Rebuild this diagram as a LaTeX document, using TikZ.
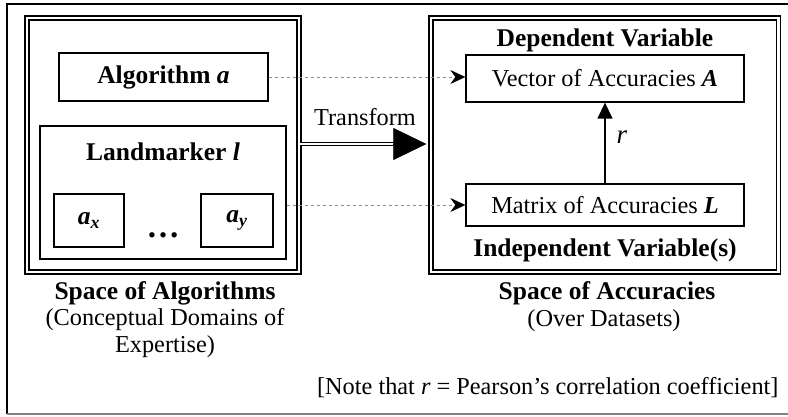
\documentclass[tikz,border=0pt]{standalone}
\usepackage{fontspec}
\setmainfont{Liberation Serif}
\usetikzlibrary{arrows.meta}
\begin{document}
\begin{tikzpicture}[x=1pt,y=-1pt,
  box/.style={draw, line width=1.3pt, inner sep=0pt},
  dbox/.style={draw, double, double distance=2.7pt, line width=1.3pt, inner sep=0pt},
  nfont/.style={font=\fontsize{24.3}{27}\selectfont},
  bfont/.style={font=\fontsize{25.5}{29}\selectfont\bfseries},
  dasharrow/.style={draw=black!45, line width=0.9pt, dash pattern=on 3.5pt off 2.5pt,
    -{Stealth[length=15pt,width=14pt,inset=5pt,color=black]}},
]
\useasboundingbox (0,0) rectangle (788,417);
\draw[line width=2pt] (788,4) -- (7,4) -- (7,414);
\draw[black!50, line width=1.5pt] (7,414) -- (788,414);

% double boxes
\node[dbox, minimum width=272pt, minimum height=254pt] (LB) at (163,145) {};
\node[dbox, minimum width=347.5pt, minimum height=254pt] (RB) at (604.75,145) {};

% left content
\node[box, minimum width=209pt, minimum height=48pt, bfont] (alg) at (163.5,77) {Algorithm \textit{a}};
\node[box, minimum width=246pt, minimum height=133pt] (lm) at (163,192.5) {};
\node[bfont] (lmt) at (163,152) {Landmarker \textit{l}};
\node[box, minimum width=70pt, minimum height=53pt, bfont] (ax) at (89,220.5) {\textit{a\textsubscript{x}}};
\node[box, minimum width=72pt, minimum height=53pt, bfont] (ay) at (237,220.5) {\textit{a\textsubscript{y}}};
\node[font=\fontsize{33}{36}\selectfont\bfseries, anchor=base] (dots) at (163,237) {…};
\node[bfont] (soa) at (165,293) {Space of Algorithms};
\node[nfont, align=center] (cd) at (165,333.5) {(Conceptual Domains of\\Expertise)};

% right content
\node[bfont] (dv) at (605,40) {Dependent Variable};
\node[box, minimum width=278pt, minimum height=47pt, nfont] (vec) at (605,78.5) {Vector of Accuracies \textbf{\textit{A}}};
\node[box, minimum width=278pt, minimum height=42pt, nfont] (mat) at (605,205) {Matrix of Accuracies \textbf{\textit{L}}};
\node[bfont] (iv) at (605,250) {Independent Variable(s)};
\node[bfont] (spa) at (607,293) {Space of Accuracies};
\node[nfont] (od) at (604,321) {(Over Datasets)};
\node[nfont, anchor=base east] (note) at (782,394) {[Note that \textit{r} = Pearson’s correlation coefficient]};
\node[nfont] (tr) at (365,117) {Transform};
\node[font=\fontsize{27}{30}\selectfont] (rl) at (622,137) {\textit{r}};

% connectors
\draw[dasharrow] (alg.east) -- (vec.west |- alg.east);
\draw[dasharrow] (lm.east |- mat.west) -- (mat.west);
\draw[line width=1.3pt, -{Triangle[length=16pt,width=15pt]}] (mat.north) -- (vec.south);
\draw[double, double distance=2pt, line width=1.2pt, shorten >=30pt] ([yshift=1pt]LB.east) -- ([yshift=1pt]RB.west);
\draw[line width=0.5pt, -{Triangle[length=33pt,width=32pt]}, shorten <=95pt, shorten >=4pt] ([yshift=1pt]LB.east) -- ([yshift=1pt]RB.west);
\end{tikzpicture}
\end{document}
